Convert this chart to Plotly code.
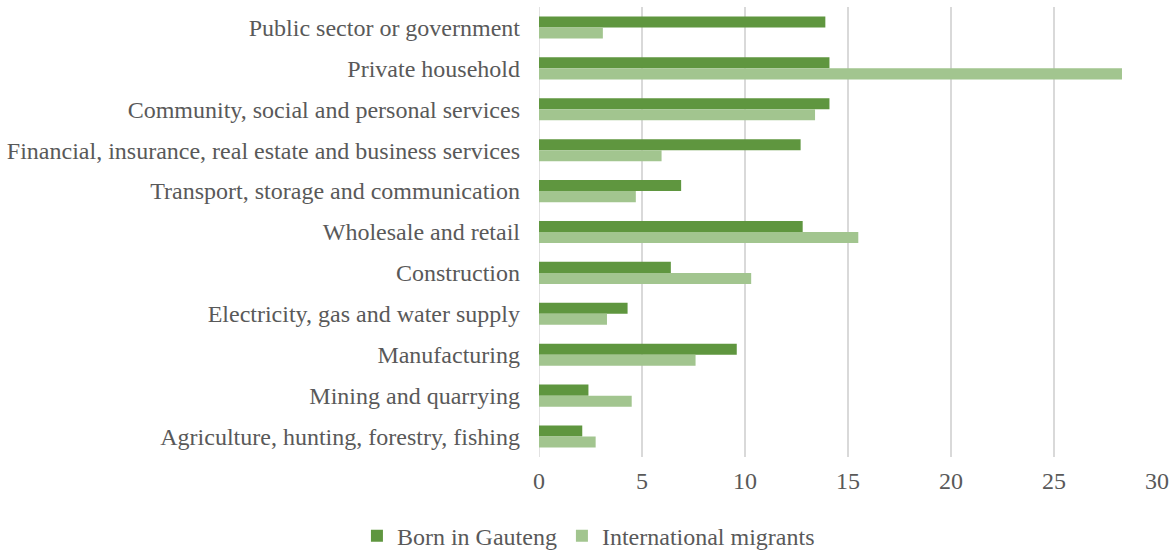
import plotly.graph_objects as go

categories = [
    "Public sector or government",
    "Private household",
    "Community, social and personal services",
    "Financial, insurance, real estate and business services",
    "Transport, storage and communication",
    "Wholesale and retail",
    "Construction",
    "Electricity, gas and water supply",
    "Manufacturing",
    "Mining and quarrying",
    "Agriculture, hunting, forestry, fishing",
]
born_in_gauteng = [13.9, 14.1, 14.1, 12.7, 6.9, 12.8, 6.4, 4.3, 9.6, 2.4, 2.1]
international_migrants = [3.1, 28.3, 13.4, 5.95, 4.7, 15.5, 10.3, 3.3, 7.6, 4.5, 2.75]
x_ticks = [0, 5, 10, 15, 20, 25, 30]

DARK = "#5F963F"
LIGHT = "#A2C58F"
TEXT = "#595959"
FONT = "Liberation Serif, Times New Roman, serif"
FS = 24

fig = go.Figure()
fig.add_trace(go.Bar(
    y=categories, x=born_in_gauteng, orientation="h", name="Born in Gauteng",
    marker=dict(color=DARK, line=dict(width=0)),
))
fig.add_trace(go.Bar(
    y=categories, x=international_migrants, orientation="h", name="International migrants",
    marker=dict(color=LIGHT, line=dict(width=0)),
))

fig.update_layout(
    width=1172, height=552,
    margin=dict(l=539, r=15, t=7, b=95, autoexpand=False),
    barmode="group", bargap=0.46, bargroupgap=0,
    plot_bgcolor="white", paper_bgcolor="white",
    font=dict(family=FONT, size=FS, color=TEXT),
    showlegend=True,
    legend=dict(orientation="h", xref="paper", x=0.08, xanchor="center",
                yref="paper", y=-0.126, yanchor="top",
                font=dict(family=FONT, size=FS, color=TEXT),
                itemwidth=30, traceorder="normal"),
    xaxis=dict(range=[0, 30], tickvals=x_ticks, showgrid=True, gridcolor="#D9D9D9",
               gridwidth=1.5, zeroline=False, showline=False, ticklabelstandoff=7,
               tickfont=dict(family=FONT, size=FS, color=TEXT), ticks=""),
    yaxis=dict(categoryorder="array", categoryarray=categories, autorange="reversed",
               showgrid=False, showline=False, ticks="", ticklabelstandoff=18,
               tickfont=dict(family=FONT, size=FS, color=TEXT)),
)
fig.add_shape(type="line", xref="x", yref="paper", x0=0, x1=0, y0=0, y1=1,
              line=dict(color="#D9D9D9", width=1.5), layer="below")

fig.write_html("out.html")
